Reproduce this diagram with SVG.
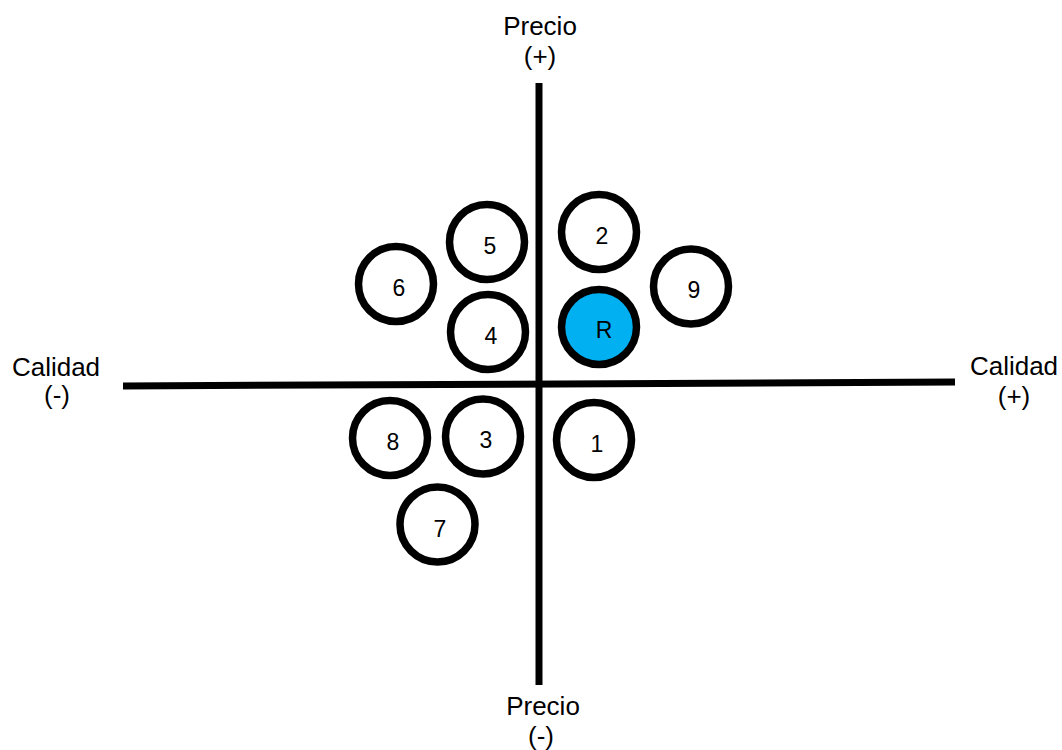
<svg xmlns="http://www.w3.org/2000/svg" width="1062" height="750" viewBox="0 0 1062 750">
<style>
.n circle{fill:#fff;stroke:#000;stroke-width:7.5}
.n text{font-family:"Liberation Sans",Arial,sans-serif;font-size:23px;text-anchor:middle;fill:#000}
.lbl{font-family:"Liberation Sans",Arial,sans-serif;font-size:26px;text-anchor:middle;fill:#000}
.axis{stroke:#000;stroke-width:7;fill:none}
</style>
<rect width="1062" height="750" fill="#fff"/>
<g id="axes">
<line class="axis" x1="539" y1="83" x2="539" y2="685"/>
<line class="axis" x1="123" y1="386" x2="955" y2="382"/>
</g>
<g id="labels">
<text class="lbl" x="540" y="35">Precio</text>
<text class="lbl" x="540" y="65">(+)</text>
<text class="lbl" x="543" y="715">Precio</text>
<text class="lbl" x="541" y="745">(-)</text>
<text class="lbl" x="56" y="376">Calidad</text>
<text class="lbl" x="57" y="404">(-)</text>
<text class="lbl" x="1014" y="375">Calidad</text>
<text class="lbl" x="1014" y="405">(+)</text>
</g>
<g id="n5" class="n"><circle cx="487" cy="242" r="37.5"/><text x="490" y="254">5</text></g>
<g id="n2" class="n"><circle cx="599" cy="232" r="37.5"/><text x="602" y="244">2</text></g>
<g id="n6" class="n"><circle cx="396" cy="284" r="37.5"/><text x="399" y="296">6</text></g>
<g id="n9" class="n"><circle cx="691" cy="286.5" r="37.5"/><text x="694" y="298">9</text></g>
<g id="n4" class="n"><circle cx="488" cy="332" r="37.5"/><text x="491" y="344">4</text></g>
<g id="nR" class="n"><circle cx="599" cy="327" r="37.5" style="fill:#00B0F0"/><text x="604" y="338">R</text></g>
<g id="n8" class="n"><circle cx="390" cy="438" r="37.5"/><text x="393" y="450">8</text></g>
<g id="n3" class="n"><circle cx="483" cy="436.5" r="37.5"/><text x="486" y="448">3</text></g>
<g id="n1" class="n"><circle cx="594" cy="440" r="37.5"/><text x="597" y="452">1</text></g>
<g id="n7" class="n"><circle cx="437.5" cy="524.5" r="37.5"/><text x="440" y="537">7</text></g>
</svg>
